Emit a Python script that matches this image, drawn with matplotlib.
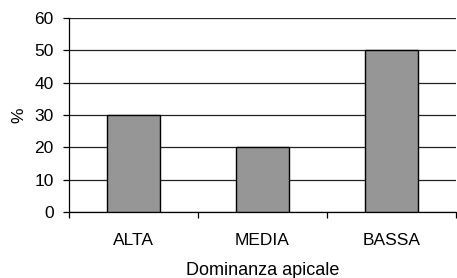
import matplotlib
matplotlib.use("Agg")
import matplotlib.pyplot as plt
from matplotlib.ticker import FixedLocator, NullFormatter

categories = ["ALTA", "MEDIA", "BASSA"]
values = [30, 20, 50]
yticks = [0, 10, 20, 30, 40, 50, 60]

plt.rcParams['font.family'] = ['Liberation Sans', 'DejaVu Sans']
FS = 12.5

fig = plt.figure(figsize=(4.57, 2.78), dpi=100)
ax = fig.add_axes([69/457, 1 - 212/278, (456 - 69)/457, (212 - 18)/278])

x = list(range(len(categories)))
ax.bar(x, values, width=0.41, color="#969696", edgecolor="black", linewidth=1, zorder=3)

ax.set_xlim(-0.5, 2.5)
ax.set_ylim(0, 60)
ax.set_yticks(yticks)
ax.yaxis.grid(True, color="#222222", linewidth=0.9, zorder=0)
ax.set_axisbelow(True)

ax.xaxis.set_major_locator(FixedLocator([-0.5, 0.5, 1.5, 2.5]))
ax.xaxis.set_major_formatter(NullFormatter())
ax.xaxis.set_minor_locator(FixedLocator(x))
ax.set_xticklabels(categories, minor=True)
ax.tick_params(axis='x', which='minor', length=0, pad=15, labelsize=FS)
ax.tick_params(axis='x', which='major', length=4, width=0.9, direction='out')
ax.tick_params(axis='y', length=4, width=0.9, labelsize=FS, pad=7)

for s in ["top", "right"]:
    ax.spines[s].set_visible(False)
for s in ["left", "bottom"]:
    ax.spines[s].set_linewidth(0.9)
    ax.spines[s].set_color("black")

ax.set_xlabel("Dominanza apicale", fontsize=13, labelpad=10)
ax.set_ylabel("%", fontsize=FS, labelpad=6)

fig.savefig("out.png", dpi=100)
